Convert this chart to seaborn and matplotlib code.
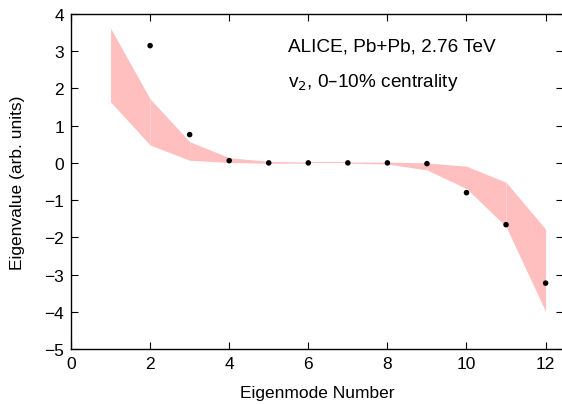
import numpy as np
import pandas as pd
import matplotlib
matplotlib.use("Agg")
import matplotlib.pyplot as plt
import seaborn as sns

# eigenmode data
mode = [2, 3, 4, 5, 6, 7, 8, 9, 10, 11, 12]
eigenvalue = [3.15, 0.76, 0.06, 0.0, 0.0, 0.0, 0.0, -0.02, -0.80, -1.66, -3.23]

# band (model range)
band_x = [1, 2, 3, 4, 5, 6, 7, 8, 9, 10, 11, 12]
band_hi = [3.62, 1.72, 0.57, 0.14, 0.04, 0.02, 0.02, 0.02, 0.0, -0.09, -0.52, -1.78]
band_lo = [1.64, 0.48, 0.07, 0.01, -0.01, -0.01, -0.01, -0.03, -0.19, -0.69, -1.71, -3.99]

xticks = [0, 2, 4, 6, 8, 10, 12]
yticks = [-5, -4, -3, -2, -1, 0, 1, 2, 3, 4]

sns.set_style("ticks")
plt.rcParams['font.family'] = ['Liberation Sans', 'DejaVu Sans']
plt.rcParams['axes.unicode_minus'] = True
plt.rcParams['text.color'] = 'black'
plt.rcParams['axes.labelcolor'] = 'black'

df = pd.DataFrame({"mode": mode, "eigenvalue": eigenvalue})

fig = plt.figure(figsize=(5.62, 4.06), dpi=100)
ax = fig.add_axes([71 / 562, 56 / 406, 492 / 562, 335 / 406])

# draw the band segment by segment (gives the faint seams of the original)
for i in range(len(band_x) - 1):
    ax.fill_between(band_x[i:i + 2], band_lo[i:i + 2], band_hi[i:i + 2],
                    color='#ffbfbf', linewidth=0)

sns.scatterplot(data=df, x="mode", y="eigenvalue", ax=ax, color='black',
                s=16, edgecolor='none', zorder=3)

ax.set_xlim(0, 12.44)
ax.set_ylim(-5, 4)
ax.set_xticks(xticks)
ax.set_yticks(yticks)
ax.tick_params(direction='in', length=5, width=0.8, top=True, right=True,
               labelsize=12.5, colors='black', pad=5)
for s in ax.spines.values():
    s.set_linewidth(1.0)
    s.set_color('black')

ax.set_xlabel("Eigenmode Number", fontsize=12.5, labelpad=10)
ax.set_ylabel("Eigenvalue (arb. units)", fontsize=12.5, labelpad=14)

ax.text(5.49, 3.03, "ALICE, Pb+Pb, 2.76 TeV", fontsize=13.7, va='baseline')
ax.text(5.49, 2.06, "v$_2$, 0–10% centrality", fontsize=13.7, va='baseline')

plt.savefig("out.png", dpi=100)
